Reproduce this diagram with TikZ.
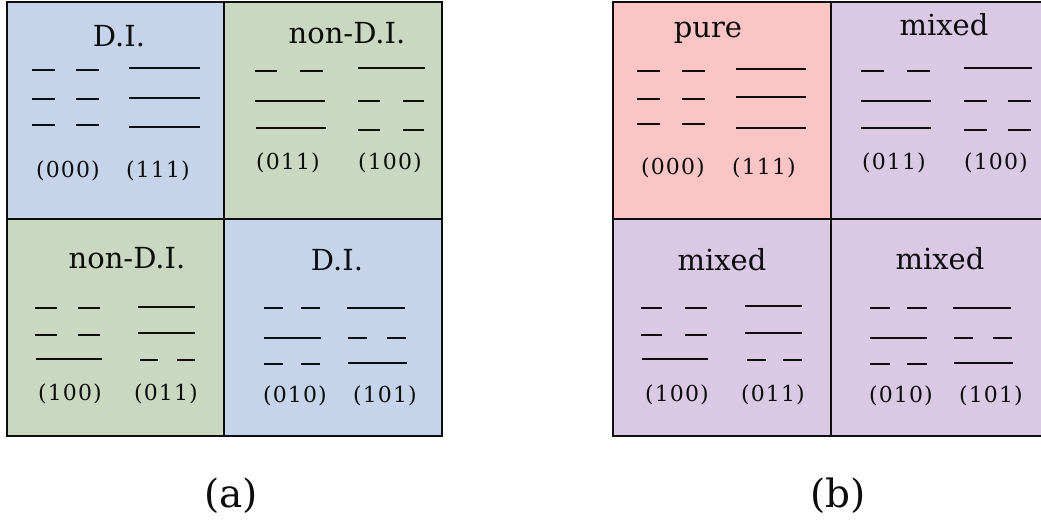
\documentclass[tikz,border=0pt]{standalone}
\usepackage{fontspec}
\setmainfont{DejaVu Serif}
\newfontfamily\labfont[LetterSpace=5]{DejaVu Serif}
\definecolor{ink}{HTML}{0D0D0D}
\definecolor{diblue}{HTML}{C5D4EA}
\definecolor{ndgreen}{HTML}{CBD8C1}
\definecolor{purepink}{HTML}{FBC5C6}
\definecolor{mixpurple}{HTML}{DAC9E5}
\tikzset{
  cellbox/.style={draw=ink, line width=2pt},
  title/.style={anchor=base, inner sep=0pt, text=ink, font=\fontsize{29}{33}\selectfont},
  lab/.style={anchor=base, inner sep=0pt, text=ink, font=\labfont\fontsize{22}{26}\selectfont},
  captext/.style={anchor=base, inner sep=0pt, text=ink, font=\fontsize{39}{45}\selectfont},
  lev/.style={draw=ink, line width=2.2pt}
}
\begin{document}
\begin{tikzpicture}[x=1pt,y=-1pt]
\useasboundingbox (0,0) rectangle (1041,524);
\clip (0,0) rectangle (1041,524);
% panel (a)
\path[cellbox, fill=diblue]   (7,2)    rectangle (224,219);
\path[cellbox, fill=ndgreen]  (224,2)  rectangle (442,219);
\path[cellbox, fill=ndgreen]  (7,219)  rectangle (224,436);
\path[cellbox, fill=diblue]   (224,219) rectangle (442,436);
% panel (b)
\path[cellbox, fill=purepink]  (613,2)   rectangle (831,219);
\path[cellbox, fill=mixpurple] (831,2)   rectangle (1049,219);
\path[cellbox, fill=mixpurple] (613,219) rectangle (831,436);
\path[cellbox, fill=mixpurple] (831,219) rectangle (1049,436);

% titles
\node[title] (t1) at (119,47) {D.I.};
\node[title] (t2) at (347,44) {non-D.I.};
\node[title] (t3) at (127,268) {non-D.I.};
\node[title] (t4) at (337,270) {D.I.};
\node[title] (t5) at (708,38) {pure};
\node[title] (t6) at (944,36) {mixed};
\node[title] (t7) at (722,270) {mixed};
\node[title] (t8) at (940,269) {mixed};

% labels
\node[lab] (l1a) at (68,177) {(000)};
\node[lab] (l1b) at (158,177) {(111)};
\node[lab] (l2a) at (288,169) {(011)};
\node[lab] (l2b) at (390,169) {(100)};
\node[lab] (l3a) at (70,400) {(100)};
\node[lab] (l3b) at (166,400) {(011)};
\node[lab] (l4a) at (295,402) {(010)};
\node[lab] (l4b) at (385,402) {(101)};
\node[lab] (l5a) at (673,175) {(000)};
\node[lab] (l5b) at (764,175) {(111)};
\node[lab] (l6a) at (894,169) {(011)};
\node[lab] (l6b) at (996,169) {(100)};
\node[lab] (l7a) at (677,401) {(100)};
\node[lab] (l7b) at (773,401) {(011)};
\node[lab] (l8a) at (901,402) {(010)};
\node[lab] (l8b) at (991,402) {(101)};

% captions
\node[captext] (ca) at (231,507) {(a)};
\node[captext] (cb) at (838,507) {(b)};

% level lines, cell 1
\draw[lev] (32,70)--(55,70) (76,70)--(99,70)
           (32,99)--(55,99) (76,99)--(99,99)
           (32,125)--(55,125) (76,125)--(99,125);
\draw[lev] (129,68)--(200,68) (129,98)--(200,98) (129,127)--(200,127);
% cell 2
\draw[lev] (255,71)--(277,71) (300,71)--(323,71)
           (255,101)--(325,101) (256,128)--(326,128);
\draw[lev] (358,68)--(425,68)
           (358,101)--(380,101) (403,101)--(424,101)
           (358,130)--(380,130) (403,130)--(424,130);
% cell 3
\draw[lev] (35,308)--(57,308) (78,308)--(100,308)
           (35,335)--(57,335) (78,335)--(100,335)
           (36,359)--(102,359);
\draw[lev] (138,307)--(195,307) (138,333)--(195,333)
           (140,360)--(158,360) (177,360)--(195,360);
% cell 4
\draw[lev] (264,308)--(283,308) (301,308)--(320,308)
           (264,338)--(321,338)
           (264,364)--(283,364) (301,364)--(320,364);
\draw[lev] (347,308)--(405,308)
           (348,338)--(367,338) (387,338)--(406,338)
           (348,363)--(407,363);
% cell 5
\draw[lev] (637,71)--(660,71) (682,71)--(705,71)
           (637,99)--(660,99) (682,99)--(705,99)
           (637,124)--(660,124) (682,124)--(705,124);
\draw[lev] (736,69)--(806,69) (736,97)--(806,97) (736,128)--(806,128);
% cell 6
\draw[lev] (861,71)--(884,71) (907,71)--(930,71)
           (861,101)--(931,101) (861,128)--(931,128);
\draw[lev] (964,68)--(1032,68)
           (964,101)--(987,101) (1008,101)--(1031,101)
           (964,130)--(987,130) (1008,130)--(1031,130);
% cell 7
\draw[lev] (641,308)--(662,308) (685,308)--(707,308)
           (641,335)--(662,335) (685,335)--(707,335)
           (642,359)--(708,359);
\draw[lev] (745,306)--(802,306) (745,333)--(802,333)
           (747,360)--(766,360) (783,360)--(802,360);
% cell 8
\draw[lev] (870,308)--(890,308) (907,308)--(927,308)
           (870,338)--(927,338)
           (870,364)--(890,364) (907,364)--(927,364);
\draw[lev] (953,308)--(1011,308)
           (954,338)--(973,338) (993,338)--(1012,338)
           (954,363)--(1013,363);
\end{tikzpicture}
\end{document}
